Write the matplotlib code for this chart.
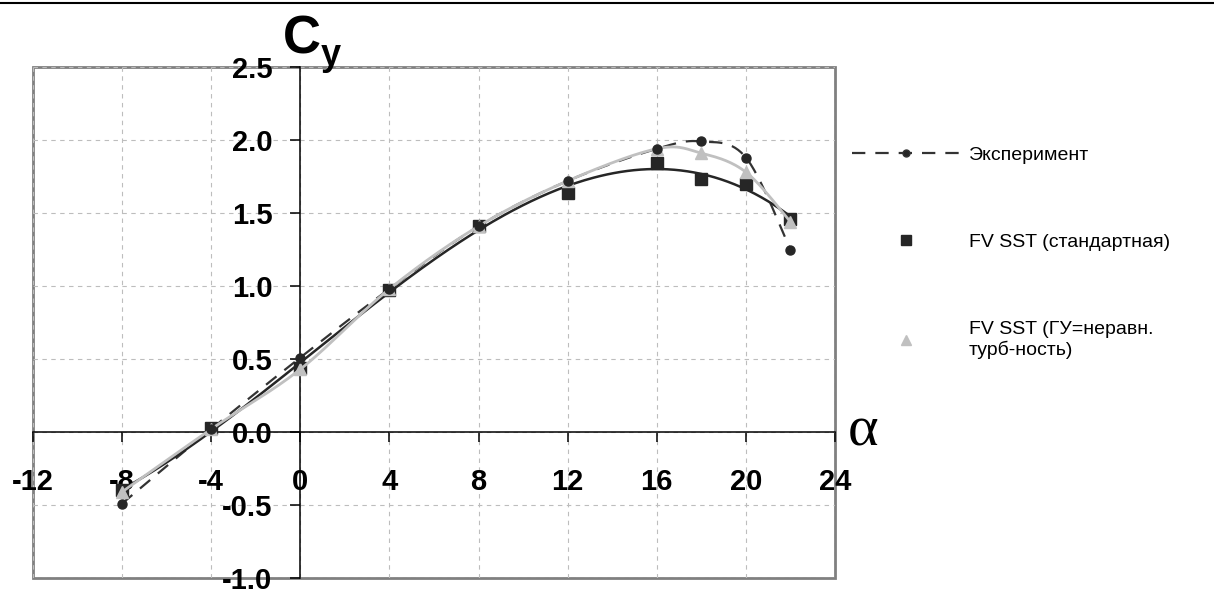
import numpy as np
import matplotlib
matplotlib.use("Agg")
import matplotlib.pyplot as plt
from matplotlib.lines import Line2D

# ---- data ----
alpha = [-8, -4, 0, 4, 8, 12, 16, 18, 20, 22]
cy_exp = [-0.49, 0.02, 0.51, 0.98, 1.41, 1.72, 1.94, 1.99, 1.88, 1.25]
cy_sst = [-0.40, 0.03, 0.44, 0.97, 1.41, 1.64, 1.84, 1.73, 1.70, 1.46]
cy_gu = [-0.41, 0.02, 0.43, 0.98, 1.41, 1.72, 1.94, 1.91, 1.78, 1.44]
x_ticks = [-12, -8, -4, 0, 4, 8, 12, 16, 20, 24]
y_ticks = [-1.0, -0.5, 0.0, 0.5, 1.0, 1.5, 2.0, 2.5]
labels = ["Эксперимент", "FV SST (стандартная)", "FV SST (ГУ=неравн.\nтурб-ность)"]


def smooth(x, y, n=30):
    """Excel-style smoothed line (Catmull-Rom Bezier)."""
    x = np.asarray(x, float)
    y = np.asarray(y, float)
    px, py = [], []
    m = len(x)
    for i in range(m - 1):
        x0, y0 = (x[i - 1], y[i - 1]) if i > 0 else (x[i], y[i])
        x1, y1 = x[i], y[i]
        x2, y2 = x[i + 1], y[i + 1]
        x3, y3 = (x[i + 2], y[i + 2]) if i + 2 < m else (x[i + 1], y[i + 1])
        c1x, c1y = x1 + (x2 - x0) / 6, y1 + (y2 - y0) / 6
        c2x, c2y = x2 - (x3 - x1) / 6, y2 - (y3 - y1) / 6
        t = np.linspace(0, 1, n)
        bx = (1 - t) ** 3 * x1 + 3 * (1 - t) ** 2 * t * c1x + 3 * (1 - t) * t ** 2 * c2x + t ** 3 * x2
        by = (1 - t) ** 3 * y1 + 3 * (1 - t) ** 2 * t * c1y + 3 * (1 - t) * t ** 2 * c2y + t ** 3 * y2
        px.extend(bx)
        py.extend(by)
    return np.array(px), np.array(py)


W, H = 1214, 589
fig = plt.figure(figsize=(W / 100, H / 100), dpi=100)
ax = fig.add_axes([33 / W, (H - 578) / H, (835 - 33) / W, (578 - 67) / H])

ax.set_xlim(-12, 24)
ax.set_ylim(-1.0, 2.5)

# grid
ax.set_xticks(x_ticks)
ax.set_yticks(y_ticks)
ax.grid(True, color="#bdbdbd", linestyle=(0, (4, 4)), linewidth=0.8)
ax.set_axisbelow(True)

# border
for s in ["top", "right"]:
    ax.spines[s].set_visible(False)
ax.spines["left"].set_position(("data", 0))
ax.spines["bottom"].set_position(("data", 0))
ax.spines["left"].set_linewidth(1.1)
ax.spines["bottom"].set_linewidth(1.1)
rect = plt.Rectangle((0, 0), 1, 1, transform=ax.transAxes, fill=False,
                     edgecolor="#808080", linewidth=2.0, zorder=0.5, clip_on=False)
ax.add_patch(rect)

ax.tick_params(axis="x", direction="out", length=7, width=1.1, pad=19,
               labelsize=21)
ax.tick_params(axis="y", direction="out", length=7, width=1.1, pad=13,
               labelsize=21)
ax.set_xticklabels([str(v) for v in x_ticks])
ax.set_yticklabels([f"{v:.1f}" for v in y_ticks])
for lab in ax.get_xticklabels() + ax.get_yticklabels():
    lab.set_fontfamily("Liberation Sans")
    lab.set_fontweight("bold")

# experiment: dashed smoothed line
sx, sy = smooth(alpha, cy_exp)
ax.plot(sx, sy, color="#333333", linestyle=(0, (6, 4.5)), linewidth=1.6, zorder=3)
ax.plot(alpha, cy_exp, linestyle="none", marker="o", markersize=6.5,
        color="#262626", zorder=5)

# FV SST standard: polynomial trend
coef = np.polyfit(alpha, cy_sst, 3)
tx = np.linspace(min(alpha), max(alpha), 300)
ax.plot(tx, np.polyval(coef, tx), color="#262626", linewidth=1.8, zorder=3)
ax.plot(alpha, cy_sst, linestyle="none", marker="s", markersize=8.5,
        color="#262626", zorder=4)

# FV SST GU: smoothed light line
gx, gy = smooth(alpha, cy_gu)
ax.plot(gx, gy, color="#c0c0c0", linewidth=2.0, zorder=4)
ax.plot(alpha, cy_gu, linestyle="none", marker="^", markersize=9,
        color="#c0c0c0", zorder=4.5)

# axis titles
fig.text(283 / W, 1 - 53 / H, "C", fontsize=38, fontweight="bold",
         family="Liberation Sans", va="baseline", ha="left")
fig.text(321 / W, 1 - 65 / H, "y", fontsize=26, fontweight="bold",
         family="Liberation Sans", va="baseline", ha="left")
fig.text(848 / W, 1 - 446 / H, "α", fontsize=42, family="Liberation Serif",
         va="baseline", ha="left")

# legend
handles = [
    Line2D([], [], color="#333333", linestyle=(0, (6, 4.5)), linewidth=1.6,
           marker="o", markersize=5, markerfacecolor="#262626"),
    Line2D([], [], linestyle="none", marker="s", markersize=7, color="#262626"),
    Line2D([], [], linestyle="none", marker="^", markersize=7, color="#c0c0c0"),
]
leg = fig.legend(handles, labels, loc="upper left",
                 bbox_to_anchor=(848 / W, 1 - 142 / H),
                 frameon=False, prop={"family": "Liberation Sans", "size": 14},
                 handlelength=5.6, handletextpad=0.4, labelspacing=3.6,
                 borderaxespad=0, borderpad=0.2)

# top rule
fig.add_artist(Line2D([0, 1], [1 - 3 / H, 1 - 3 / H], transform=fig.transFigure,
                      color="black", linewidth=1.5))

fig.savefig("out.png", dpi=100)
